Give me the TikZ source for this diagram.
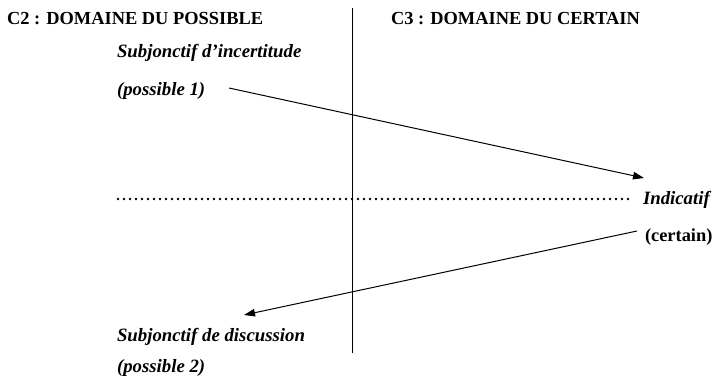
\documentclass[tikz,border=0pt]{standalone}
\usepackage{fontspec}
\setmainfont{Liberation Serif}
\usetikzlibrary{arrows.meta}
\begin{document}
\begin{tikzpicture}[x=1pt,y=-1pt,
  every node/.style={inner sep=0pt,outer sep=0pt,anchor=base west,font=\fontsize{18.4}{22}\selectfont},
  head/.style={font=\fontsize{18.4}{22}\selectfont\bfseries},
  mood/.style={font=\fontsize{18.8}{22}\selectfont\bfseries\itshape},
  link/.style={line width=1pt,-{Triangle[length=11pt,width=7.5pt]}},
  divider/.style={line width=1pt},
  dotline/.style={line width=2.8pt,line cap=round,dash pattern=on 0pt off 6pt}]
\useasboundingbox (0,0) rectangle (728,379);

% column headings and the border between them
\node[head] (c2) at (7,25) {C2 : DOMAINE DU POSSIBLE};
\node[head] (c3) at (391,25) {C3 : DOMAINE DU CERTAIN};
\coordinate (divtop) at (352,8);
\coordinate (divbot) at (352,353);
\draw[divider] (divtop) -- (divbot);

% moods
\node[mood] (inc) at (117,58) {Subjonctif d’incertitude};
\node[mood] (p1) at (117,96) {(possible 1)};
\node[mood] (ind) at (643,205) {Indicatif};
\node[head] (cert) at (645,242) {(certain)};
\node[mood] (disc) at (117,341) {Subjonctif de discussion};
\node[mood] (p2) at (117,372) {(possible 2)};

% dotted separation line
\coordinate (dotl) at (118,199);
\coordinate (dotr) at (630,199);
\draw[dotline] (dotl) -- (dotr);

% arrows between the moods
\coordinate (a1s) at (229,88);
\coordinate (a1e) at (644,178);
\coordinate (a2s) at (637,231);
\coordinate (a2e) at (244,315);
\draw[link] (a1s) -- (a1e);
\draw[link] (a2s) -- (a2e);
\end{tikzpicture}
\end{document}
